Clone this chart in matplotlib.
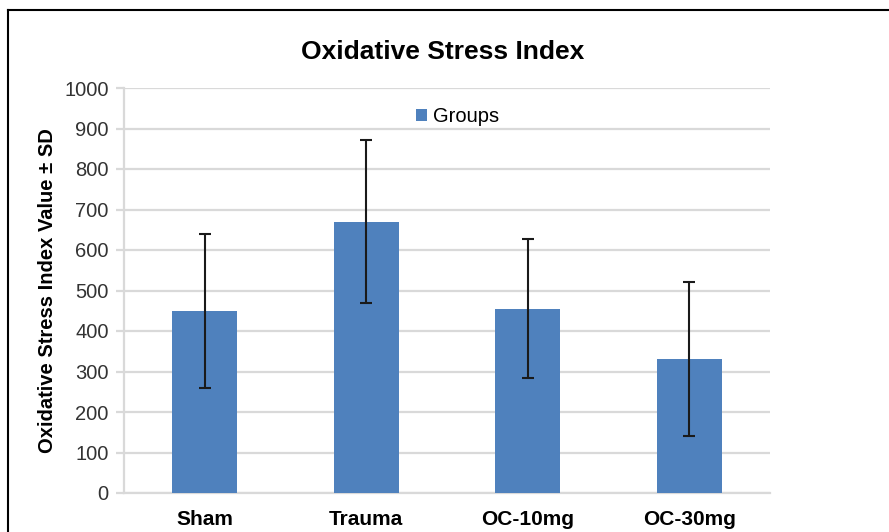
import matplotlib
matplotlib.use("Agg")
import matplotlib.pyplot as plt
from matplotlib.lines import Line2D

plt.rcParams['font.family'] = ['Liberation Sans', 'DejaVu Sans']

groups = ['Sham', 'Trauma', 'OC-10mg', 'OC-30mg']
osi_mean = [450, 670, 455, 331]
osi_sd = [190, 202, 172, 190]

BAR_COLOR = '#4f81bd'
GRID_COLOR = '#d9d9d9'

fig = plt.figure(figsize=(8.89, 5.32), dpi=100)
ax = fig.add_axes([124 / 889, 1 - 493 / 532, (770 - 124) / 889, (493 - 88) / 532])

x = range(len(groups))
ax.bar(x, osi_mean, width=0.4, color=BAR_COLOR, label='Groups', zorder=3)
ax.errorbar(x, osi_mean, yerr=osi_sd, fmt='none', ecolor='#1a1a1a',
            elinewidth=1.5, capsize=4, capthick=1.5, zorder=4)

ax.set_xlim(-0.5, len(groups) - 0.5)
ax.set_ylim(0, 1000)
ax.set_yticks(range(0, 1001, 100))
ax.yaxis.grid(True, color=GRID_COLOR, linewidth=1.6, zorder=0)
ax.set_axisbelow(True)

for side in ['top', 'right']:
    ax.spines[side].set_visible(False)
ax.spines['left'].set_color(GRID_COLOR)
ax.spines['left'].set_linewidth(1.6)
ax.spines['bottom'].set_color(GRID_COLOR)
ax.spines['bottom'].set_linewidth(1.6)

ax.tick_params(axis='y', length=6, width=1.6, color=GRID_COLOR,
               labelsize=14.5, labelcolor='#333333', pad=5)
ax.tick_params(axis='x', length=0, labelsize=15, pad=12)
ax.set_xticks(list(x))
ax.set_xticklabels(groups, fontweight='bold')

ax.set_ylabel('Oxidative Stress Index Value ± SD', fontsize=14.5,
              fontweight='bold', labelpad=5)

fig.text(443 / 889, 1 - 52 / 532, 'Oxidative Stress Index', ha='center',
         va='center', fontsize=19, fontweight='bold')

ax.legend(loc='upper center', bbox_to_anchor=(0.516, 0.997), frameon=False,
          fontsize=14.5, handlelength=0.55, handleheight=0.55,
          handletextpad=0.3)

# black frame around the figure (left and top visible)
fig.add_artist(Line2D([8 / 889, 8 / 889], [0, 1 - 10 / 532],
                      color='black', linewidth=1.5, transform=fig.transFigure))
fig.add_artist(Line2D([8 / 889, 1], [1 - 10 / 532, 1 - 10 / 532],
                      color='black', linewidth=1.5, transform=fig.transFigure))

fig.savefig('out.png', dpi=100)
